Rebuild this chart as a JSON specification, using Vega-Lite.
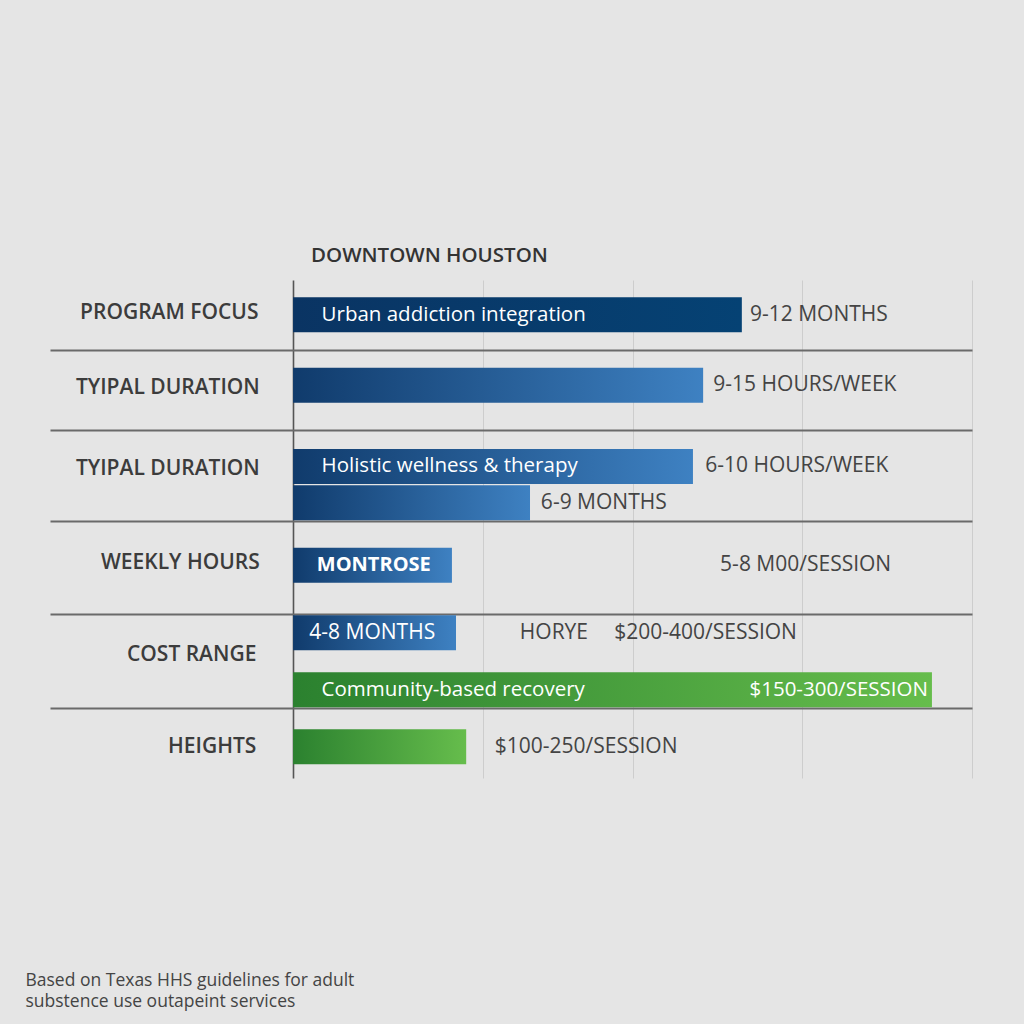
{
  "$schema": "https://vega.github.io/schema/vega-lite/v6.json",
  "width": 922,
  "height": 498,
  "autosize": "none",
  "padding": {"left": 50, "top": 280, "right": 52, "bottom": 246},
  "background": "#e5e5e5",
  "title": {
    "text": "DOWNTOWN HOUSTON",
    "anchor": "start",
    "frame": "group",
    "dx": 261,
    "dy": 19,
    "offset": 17,
    "baseline": "alphabetic",
    "fontSize": 20.5,
    "fontWeight": 600,
    "color": "#333333"
  },
  "datasets": {
    "bars": [
      {"row": "PROGRAM FOCUS", "lane": 0.49, "value": 66.1, "tone": "navy"},
      {"row": "TYIPAL DURATION", "lane": 1.48, "value": 60.4, "tone": "blue"},
      {"row": "TYIPAL DURATION", "lane": 2.62, "value": 58.9, "tone": "blue"},
      {"row": "TYIPAL DURATION", "lane": 3.13, "value": 34.9, "tone": "blue"},
      {"row": "WEEKLY HOURS", "lane": 4.01, "value": 23.4, "tone": "blue"},
      {"row": "COST RANGE", "lane": 4.96, "value": 24.0, "tone": "blue"},
      {"row": "COST RANGE", "lane": 5.76, "value": 94.1, "tone": "green"},
      {"row": "HEIGHTS", "lane": 6.56, "value": 25.5, "tone": "green"}
    ],
    "rows": [
      {"label": "PROGRAM FOCUS", "lane": 0.47, "value": -5.1},
      {"label": "TYIPAL DURATION", "lane": 1.52, "value": -4.9},
      {"label": "TYIPAL DURATION", "lane": 2.66, "value": -4.9},
      {"label": "WEEKLY HOURS", "lane": 3.98, "value": -4.9},
      {"label": "COST RANGE", "lane": 5.27, "value": -5.4},
      {"label": "HEIGHTS", "lane": 6.56, "value": -5.4}
    ],
    "notes": [
      {"label": "Urban addiction integration", "lane": 0.49, "value": 4.2, "kind": "in"},
      {"label": "Holistic wellness & therapy", "lane": 2.62, "value": 4.2, "kind": "in"},
      {"label": "MONTROSE", "lane": 4.01, "value": 3.5, "kind": "bold"},
      {"label": "4-8 MONTHS", "lane": 4.96, "value": 2.4, "kind": "medium"},
      {"label": "Community-based recovery", "lane": 5.76, "value": 4.2, "kind": "in"},
      {"label": "$150-300/SESSION", "lane": 5.76, "value": 93.5, "kind": "right"},
      {"label": "9-12 MONTHS", "lane": 0.49, "value": 67.3, "kind": "out"},
      {"label": "9-15 HOURS/WEEK", "lane": 1.48, "value": 61.9, "kind": "out"},
      {"label": "6-10 HOURS/WEEK", "lane": 2.62, "value": 60.7, "kind": "out"},
      {"label": "6-9 MONTHS", "lane": 3.13, "value": 36.5, "kind": "out"},
      {"label": "5-8 M00/SESSION", "lane": 4.01, "value": 62.9, "kind": "out"},
      {"label": "HORYE", "lane": 4.96, "value": 33.4, "kind": "out"},
      {"label": "$200-400/SESSION", "lane": 4.96, "value": 47.3, "kind": "out"},
      {"label": "$100-250/SESSION", "lane": 6.56, "value": 29.7, "kind": "out"}
    ]
  },
  "encoding": {
    "x": {
      "field": "value",
      "type": "quantitative",
      "scale": {"domain": [-35.8, 100], "nice": false, "zero": false, "padding": 0},
      "axis": {
        "values": [0, 28, 50, 75, 100],
        "grid": true,
        "gridColor": {"condition": {"test": "datum.value === 0", "value": "#555555"}, "value": "#cdcdcd"},
        "gridWidth": {"condition": {"test": "datum.value === 0", "value": 1.6}, "value": 1},
        "labels": false,
        "ticks": false,
        "domain": false,
        "title": ["Based on Texas HHS guidelines for adult", "substence use outapeint services"],
        "titleX": -25,
        "titleY": 207,
        "titleAlign": "left",
        "titleAnchor": "start",
        "titleBaseline": "alphabetic",
        "titleFontSize": 17.5,
        "titleFontWeight": "normal",
        "titleColor": "#444444",
        "titleLineHeight": 21
      }
    },
    "y": {
      "field": "lane",
      "type": "quantitative",
      "scale": {"domain": [0, 7], "reverse": true, "nice": false, "zero": false, "padding": 0},
      "axis": {
        "values": [0.98, 2.11, 3.39, 4.69, 6.02],
        "grid": true,
        "gridColor": "#6a6a6a",
        "gridWidth": 2,
        "labels": false,
        "ticks": false,
        "domain": false,
        "title": null
      }
    }
  },
  "layer": [
    {
      "data": {"name": "bars"},
      "transform": [{"filter": "datum.tone == 'navy'"}],
      "mark": {
        "type": "bar",
        "orient": "horizontal",
        "height": 35,
        "fill": {
          "gradient": "linear", "x1": 0, "x2": 1, "y1": 0, "y2": 0,
          "stops": [{"offset": 0, "color": "#0a3463"}, {"offset": 1, "color": "#054274"}]
        }
      },
      "encoding": {"x2": {"datum": 0}}
    },
    {
      "data": {"name": "bars"},
      "transform": [{"filter": "datum.tone == 'blue'"}],
      "mark": {
        "type": "bar",
        "orient": "horizontal",
        "height": 35,
        "fill": {
          "gradient": "linear", "x1": 0, "x2": 1, "y1": 0, "y2": 0,
          "stops": [{"offset": 0, "color": "#103b6c"}, {"offset": 1, "color": "#3e81c2"}]
        }
      },
      "encoding": {"x2": {"datum": 0}}
    },
    {
      "data": {"name": "bars"},
      "transform": [{"filter": "datum.tone == 'green'"}],
      "mark": {
        "type": "bar",
        "orient": "horizontal",
        "height": 35,
        "fill": {
          "gradient": "linear", "x1": 0, "x2": 1, "y1": 0, "y2": 0,
          "stops": [{"offset": 0, "color": "#2b812f"}, {"offset": 1, "color": "#66bd4c"}]
        }
      },
      "encoding": {"x2": {"datum": 0}}
    },
    {
      "data": {"name": "rows"},
      "mark": {"type": "text", "align": "right", "baseline": "middle", "fontSize": 21, "fontWeight": 600, "color": "#3c3c3c"},
      "encoding": {"text": {"field": "label"}}
    },
    {
      "data": {"name": "notes"},
      "transform": [{"filter": "datum.kind == 'in'"}],
      "mark": {"type": "text", "align": "left", "baseline": "middle", "fontSize": 20.5, "color": "#ffffff"},
      "encoding": {"text": {"field": "label"}}
    },
    {
      "data": {"name": "notes"},
      "transform": [{"filter": "datum.kind == 'bold'"}],
      "mark": {"type": "text", "align": "left", "baseline": "middle", "fontSize": 20, "fontWeight": 700, "color": "#ffffff"},
      "encoding": {"text": {"field": "label"}}
    },
    {
      "data": {"name": "notes"},
      "transform": [{"filter": "datum.kind == 'medium'"}],
      "mark": {"type": "text", "align": "left", "baseline": "middle", "fontSize": 21, "fontWeight": 500, "color": "#ffffff"},
      "encoding": {"text": {"field": "label"}}
    },
    {
      "data": {"name": "notes"},
      "transform": [{"filter": "datum.kind == 'right'"}],
      "mark": {"type": "text", "align": "right", "baseline": "middle", "fontSize": 20.5, "color": "#ffffff"},
      "encoding": {"text": {"field": "label"}}
    },
    {
      "data": {"name": "notes"},
      "transform": [{"filter": "datum.kind == 'out'"}],
      "mark": {"type": "text", "align": "left", "baseline": "middle", "fontSize": 21, "color": "#444444"},
      "encoding": {"text": {"field": "label"}}
    }
  ],
  "config": {
    "font": "Open Sans",
    "view": {"stroke": null}
  }
}
